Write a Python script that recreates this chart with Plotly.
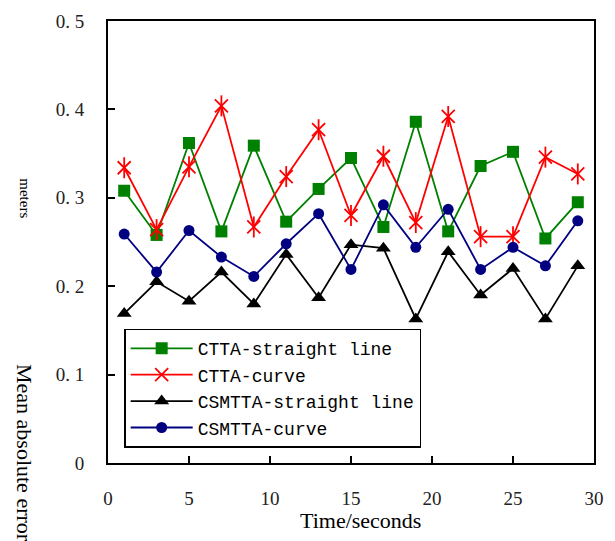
import plotly.graph_objects as go

# ---- data ----
time_s = [1, 3, 5, 7, 9, 11, 13, 15, 17, 19, 21, 23, 25, 27, 29]
ctta_straight = [0.308, 0.258, 0.362, 0.262, 0.359, 0.273, 0.310, 0.345, 0.267, 0.386, 0.262, 0.336, 0.352, 0.254, 0.295]
ctta_curve = [0.334, 0.264, 0.335, 0.404, 0.267, 0.324, 0.377, 0.280, 0.347, 0.272, 0.392, 0.256, 0.256, 0.346, 0.327]
csmtta_straight = [0.169, 0.205, 0.183, 0.216, 0.180, 0.236, 0.187, 0.247, 0.243, 0.163, 0.239, 0.190, 0.220, 0.163, 0.223]
csmtta_curve = [0.259, 0.216, 0.263, 0.233, 0.211, 0.248, 0.282, 0.219, 0.292, 0.244, 0.287, 0.219, 0.244, 0.223, 0.274]

x_tickvals = [0, 5, 10, 15, 20, 25, 30]
y_tickvals = [0, 0.1, 0.2, 0.3, 0.4, 0.5]
y_ticktext = ["0", "0. 1", "0. 2", "0. 3", "0. 4", "0. 5"]

W, H = 615, 541
L, R, T, B = 108, 11, 18, 78

mono = "Liberation Mono"
serif = "Liberation Serif"

fig = go.Figure()
fig.add_trace(go.Scatter(x=time_s, y=ctta_straight, mode="lines+markers", name="CTTA-straight line",
                         line=dict(color="#008000", width=1.8),
                         marker=dict(symbol="square", size=12, color="#008000")))
fig.add_trace(go.Scatter(x=time_s, y=ctta_curve, mode="lines+markers", name="CTTA-curve",
                         line=dict(color="#ff0000", width=1.8),
                         marker=dict(symbol="x-thin-open", size=13, color="#ff0000",
                                     line=dict(color="#ff0000", width=1.8))))
fig.add_trace(go.Scatter(x=time_s, y=ctta_curve, mode="markers", showlegend=False,
                         hoverinfo="skip",
                         marker=dict(symbol="line-ns-open", size=15, color="#ff0000",
                                     line=dict(color="#ff0000", width=1.8))))
fig.add_trace(go.Scatter(x=time_s, y=csmtta_straight, mode="lines+markers", name="CSMTTA-straight line",
                         line=dict(color="#000000", width=1.8),
                         marker=dict(symbol="triangle-up", size=13, color="#000000")))
fig.add_trace(go.Scatter(x=time_s, y=csmtta_curve, mode="lines+markers", name="CSMTTA-curve",
                         line=dict(color="#000080", width=1.8),
                         marker=dict(symbol="circle", size=11, color="#000080")))

pw = W - L - R
ph = H - T - B


def px_x(px):
    return (px - L) / pw


def px_y(py):
    return (H - B - py) / ph


annotations = [
    dict(text="Time/seconds", x=px_x(366), y=px_y(521), xref="paper", yref="paper",
         showarrow=False, xanchor="center", yanchor="middle",
         font=dict(family=serif, size=22, color="black")),
    dict(text="meters", x=px_x(23), y=px_y(174), xref="paper", yref="paper",
         showarrow=False, textangle=90, xanchor="center", yanchor="top",
         font=dict(family=serif, size=15, color="black")),
    dict(text="Mean absolute error", x=px_x(23), y=px_y(361), xref="paper", yref="paper",
         showarrow=False, textangle=90, xanchor="center", yanchor="top",
         font=dict(family=serif, size=22, color="black")),
]

fig.update_layout(
    width=W, height=H,
    margin=dict(l=L, r=R, t=T, b=B, pad=0),
    paper_bgcolor="white", plot_bgcolor="white",
    showlegend=True,
    legend=dict(x=px_x(124.5), y=px_y(447.5), xanchor="left", yanchor="bottom",
                bgcolor="white", bordercolor="black", borderwidth=1.5,
                font=dict(family=mono, size=18, color="black"),
                itemwidth=62, tracegroupgap=0, traceorder="normal"),
    annotations=annotations,
)
fig.update_xaxes(range=[0, 30], tickvals=x_tickvals, ticks="inside", ticklen=7, tickwidth=1.5,
                 tickcolor="black", showline=True, linecolor="black", linewidth=2, mirror=True,
                 showgrid=False, zeroline=False, ticklabelstandoff=17,
                 tickfont=dict(family=serif, size=19, color="#222"))
fig.update_yaxes(range=[0, 0.5], tickvals=y_tickvals, ticktext=y_ticktext, ticks="inside", ticklen=7,
                 tickwidth=1.5, tickcolor="black", showline=True, linecolor="black", linewidth=2,
                 mirror=True, showgrid=False, zeroline=False, ticklabelstandoff=18,
                 tickfont=dict(family=serif, size=19, color="#222"))

fig.write_html("out.html")
